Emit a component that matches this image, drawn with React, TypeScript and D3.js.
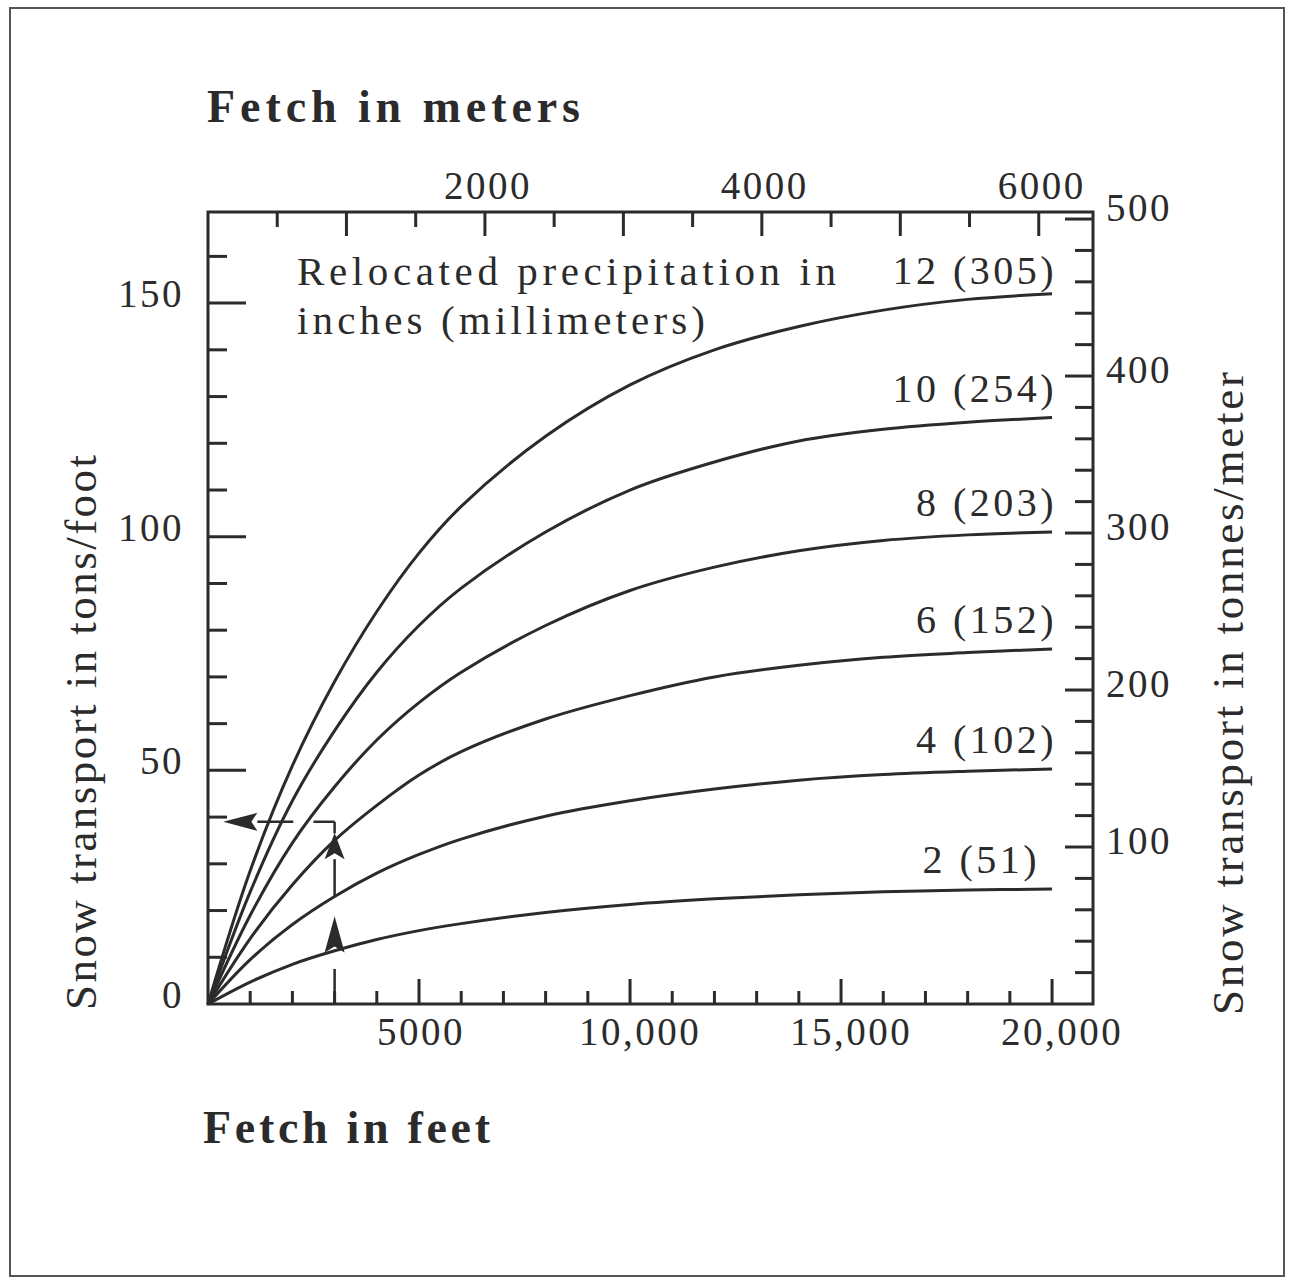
import React from 'react';
import * as d3 from 'd3';

const fetchFeet = [0, 1000, 2000, 3000, 4000, 5000, 6000, 8000, 10000, 12000, 14000, 16000, 18000, 20000];

// relocated precipitation for each curve, inches and (millimeters)
const precipInches = [2, 4, 6, 8, 10, 12];
const precipMm = [51, 102, 152, 203, 254, 305];

// snow transport in tons/foot, one array per curve, aligned with fetchFeet
const transport2 = [0, 4.7, 8.5, 11.4, 13.8, 15.7, 17.2, 19.6, 21.3, 22.5, 23.4, 24, 24.4, 24.6];
const transport4 = [0, 9.5, 17, 23, 28, 32, 35.3, 40.2, 43.5, 46, 47.9, 49.1, 49.8, 50.3];
const transport6 = [0, 14, 25.5, 35, 42.5, 49, 54, 61, 66, 70, 72.5, 74.2, 75.2, 76];
const transport8 = [0, 19, 34.5, 46.5, 56.5, 64.5, 71, 81, 88.5, 93.5, 97, 99.2, 100.4, 101];
const transport10 = [0, 24, 43.5, 58.5, 71, 81, 89, 101, 110, 116, 120.5, 123, 124.5, 125.5];
const transport12 = [0, 28.5, 51, 69, 84, 96.5, 106.5, 121.5, 132.5, 140, 145, 148.5, 150.8, 152];

const curves = [transport2, transport4, transport6, transport8, transport10, transport12];

// tick labels
const feetLabels = [5000, 10000, 15000, 20000];
const meterLabels = [2000, 4000, 6000];
const tonsFootLabels = [0, 50, 100, 150];
const tonnesMeterLabels = [100, 200, 300, 400, 500];

// worked example: 3000 ft of fetch with 6 in. of relocated precipitation
const exampleFetch = 3000; // ft
const exampleResult = 39; // tons/ft
const verticalDashes = [[0, 7.5], [23, 31], [36.5, exampleResult]]; // tons/ft
const upArrows = [[11, 18.8], [31, 36.6]]; // [base, tip] in tons/ft
const horizontalDashes = [[exampleFetch, 2500], [2020, 1170]]; // ft
const leftArrow = [1170, 360]; // [base, tip] in ft

const FT_PER_M = 3.2808;
const TONNE_M_PER_TON_FT = 2.9763;

const ink = '#2b2b2b';
const font = '"Liberation Serif", "Times New Roman", serif';

export default function App() {
  const left = 208, right = 1093, top = 212, bottom = 1004;

  const x = d3.scaleLinear().domain([0, 20970]).range([left, right]);
  const y = d3.scaleLinear().domain([0, 169.5]).range([bottom, top]);
  const xm = d3.scaleLinear().domain([0, 20970 / FT_PER_M]).range([left, right]);
  const yr = d3.scaleLinear().domain([0, 169.5 * TONNE_M_PER_TON_FT]).range([bottom, top]);

  const line = d3.line<number>()
    .x((d, i) => x(fetchFeet[i]))
    .y(d => y(d))
    .curve(d3.curveCatmullRom.alpha(0.5));

  const feetTicks = d3.range(1000, 20001, 1000);
  const meterTicks = d3.range(500, 6001, 500);
  const tonsTicks = d3.range(10, 161, 10);
  const tonnesTicks = d3.range(20, 501, 20);

  const fmtFeet = (v: number) => (v >= 10000 ? d3.format(',')(v) : String(v));
  const last = fetchFeet.length - 1;
  const xe = x(exampleFetch);

  const tick = { stroke: ink, strokeWidth: 3 };
  const num = { fontFamily: font, fontSize: 39, fill: ink, letterSpacing: 2.5 };

  return (
    <svg width={1294} height={1285} style={{ position: 'absolute', left: 0, top: 0, background: '#fff' }}>
      <rect x={10} y={8} width={1274} height={1268} fill="none" stroke="#555" strokeWidth={2} />

      {/* titles */}
      <text x={207} y={122} fontFamily={font} fontWeight="bold" fontSize={46} fill={ink}
        textLength={373} lengthAdjust="spacing">Fetch in meters</text>
      <text x={203} y={1143} fontFamily={font} fontWeight="bold" fontSize={46} fill={ink}
        textLength={287} lengthAdjust="spacing">Fetch in feet</text>
      <text transform={`translate(96,${(455 + 1010) / 2}) rotate(-90)`} textAnchor="middle"
        fontFamily={font} fontSize={45} fill={ink} textLength={555} lengthAdjust="spacing">
        Snow transport in tons/foot</text>
      <text transform={`translate(1243,${(372 + 1015) / 2}) rotate(-90)`} textAnchor="middle"
        fontFamily={font} fontSize={45} fill={ink} textLength={643} lengthAdjust="spacing">
        Snow transport in tonnes/meter</text>

      {/* annotation */}
      <text x={297} y={285} fontFamily={font} fontSize={41} fill={ink}
        textLength={539} lengthAdjust="spacing">Relocated precipitation in</text>
      <text x={297} y={334} fontFamily={font} fontSize={41} fill={ink}
        textLength={408} lengthAdjust="spacing">inches (millimeters)</text>

      {/* frame */}
      <rect x={left} y={top} width={right - left} height={bottom - top} fill="none" stroke={ink} strokeWidth={3} />

      {/* bottom axis: feet */}
      {feetTicks.map(v => (
        <line key={`b${v}`} x1={x(v)} x2={x(v)} y1={bottom} y2={bottom - (v % 5000 === 0 ? 25 : 13)} {...tick} />
      ))}
      {feetLabels.map(v => (
        <text key={`bl${v}`} x={x(v) + (v >= 10000 ? 10 : 2)} y={1045} textAnchor="middle" {...num}>{fmtFeet(v)}</text>
      ))}

      {/* top axis: meters */}
      {meterTicks.map(v => (
        <line key={`t${v}`} x1={xm(v)} x2={xm(v)} y1={top} y2={top + (v % 1000 === 0 ? 24 : 15)} {...tick} />
      ))}
      {meterLabels.map(v => (
        <text key={`tl${v}`} x={xm(v) + 3} y={199} textAnchor="middle" {...num}>{v}</text>
      ))}

      {/* left axis: tons/foot */}
      {tonsTicks.map(v => (
        <line key={`l${v}`} x1={left} x2={left + (v % 50 === 0 ? 38 : 19)} y1={y(v)} y2={y(v)} {...tick} />
      ))}
      {tonsFootLabels.map(v => (
        <text key={`ll${v}`} x={184} y={y(v) + 4} textAnchor="end" {...num}>{v}</text>
      ))}

      {/* right axis: tonnes/meter */}
      {tonnesTicks.map(v => (
        <line key={`r${v}`} x1={right} x2={right - (v % 100 === 0 ? 28 : 18)} y1={yr(v)} y2={yr(v)} {...tick} />
      ))}
      {tonnesMeterLabels.map(v => (
        <text key={`rl${v}`} x={1106} y={yr(v) + (v === 500 ? 2 : 7)} {...num}>{v}</text>
      ))}

      {/* curves */}
      {curves.map((c, i) => (
        <path key={`c${i}`} d={line(c) || ''} fill="none" stroke={ink} strokeWidth={3} />
      ))}
      {curves.map((c, i) => (
        <text key={`cl${i}`} x={x(fetchFeet[last]) + (i === 0 ? -12 : 5)} y={y(c[last]) - (i === 5 ? 10 : 16)}
          textAnchor="end" {...num} fontSize={40} letterSpacing={3.5}>{`${precipInches[i]} (${precipMm[i]})`}</text>
      ))}

      {/* worked example */}
      {verticalDashes.map(([a, b], i) => (
        <line key={`vd${i}`} x1={xe} x2={xe} y1={y(a)} y2={y(b)} stroke={ink} strokeWidth={2.5} />
      ))}
      {upArrows.map(([base, tip], i) => (
        <path key={`ua${i}`} fill={ink}
          d={`M${xe},${y(tip)} L${xe + 10},${y(base)} L${xe},${y(base) - 6} L${xe - 10},${y(base)} Z`} />
      ))}
      {horizontalDashes.map(([a, b], i) => (
        <line key={`hd${i}`} x1={x(a)} x2={x(b)} y1={y(exampleResult)} y2={y(exampleResult)} stroke={ink} strokeWidth={2.5} />
      ))}
      <path fill={ink}
        d={`M${x(leftArrow[1])},${y(exampleResult)} L${x(leftArrow[0])},${y(exampleResult) - 9} L${x(leftArrow[0]) - 6},${y(exampleResult)} L${x(leftArrow[0])},${y(exampleResult) + 9} Z`} />
    </svg>
  );
}
